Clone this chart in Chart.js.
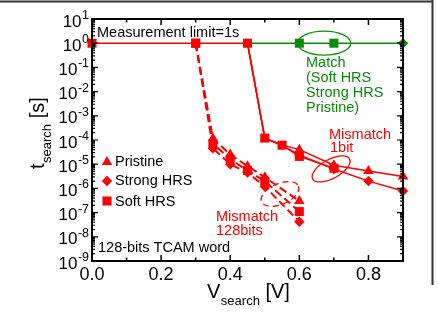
<!DOCTYPE html>
<html>
<head>
<meta charset="utf-8">
<script src="https://cdn.jsdelivr.net/npm/chart.js@4/dist/chart.umd.min.js"></script>
<style>
html,body{margin:0;padding:0;background:#fff;}
#c{display:block;}
</style>
</head>
<body>
<canvas id="c" width="438" height="318"></canvas>
<script>
// ---- data ----
const xLabelValues = [0, 0.2, 0.4, 0.6, 0.8];
const yDecadeExponents = [1, 0, -1, -2, -3, -4, -5, -6, -7, -8, -9];

// Mismatch 128 bits (dashed)
const v128 = [0.3, 0.35, 0.4, 0.45, 0.5, 0.6];
const t128Pristine = [1, 1.15e-4, 2.5e-5, 8.3e-6, 2.9e-6, 3.0e-7];
const t128Soft     = [1, 7.2e-5, 1.6e-5, 5.5e-6, 2.0e-6, 1.1e-7];
const t128Strong   = [1, 4.5e-5, 1.0e-5, 4.5e-6, 1.2e-6, 4.2e-8];

// Mismatch 1 bit (solid)
const v1Soft = [0, 0.3, 0.45, 0.5, 0.55, 0.6, 0.7];
const t1Soft = [1, 1, 1, 1.2e-4, 6.1e-5, 2.1e-5, 6.8e-6];
const v1 = [0.45, 0.5, 0.55, 0.6, 0.7, 0.8, 0.9];
const t1Pristine = [1, 1.2e-4, 6.3e-5, 4.0e-5, 9.0e-6, 5.2e-6, 3.1e-6];
const t1Strong   = [1, 1.15e-4, 6.0e-5, 2.4e-5, 6.3e-6, 2.0e-6, 7.8e-7];

// Match (green)
const vMatch = [0.45, 0.6, 0.7, 0.9];
const tMatch = [1, 1, 1, 1];

// ---- styling ----
const RED = '#ff0000';
const GREEN = '#0a8c0a';
const FONT = '"Liberation Sans", Arial, Helvetica, sans-serif';

function pts(xs, ys) { return xs.map((x, i) => ({x: x, y: ys[i]})); }

const R_SQ = 6.4, R_TRI = 6, R_DIA = 5.2;

const datasets = [
  {data: pts(v1Soft, t1Soft), borderColor: RED, backgroundColor: RED, borderWidth: 1.5,
   pointStyle: 'rect', pointRadius: R_SQ},
  {data: pts(v1, t1Pristine), borderColor: RED, backgroundColor: RED, borderWidth: 1.5,
   pointStyle: 'triangle', pointRadius: [0, 0, 0, R_TRI, R_TRI, R_TRI, R_TRI]},
  {data: pts(v1, t1Strong), borderColor: RED, backgroundColor: RED, borderWidth: 1.5,
   pointStyle: 'rectRot', pointRadius: [0, 0, 0, R_DIA, R_DIA, R_DIA, R_DIA]},
  {data: pts(v128, t128Pristine), borderColor: RED, backgroundColor: RED, borderWidth: 2, borderDash: [8, 4],
   pointStyle: 'triangle', pointRadius: [0, R_TRI, R_TRI, R_TRI, R_TRI, R_TRI]},
  {data: pts(v128, t128Soft), borderColor: RED, backgroundColor: RED, borderWidth: 2, borderDash: [8, 4],
   pointStyle: 'rect', pointRadius: R_SQ},
  {data: pts(v128, t128Strong), borderColor: RED, backgroundColor: RED, borderWidth: 2, borderDash: [8, 4],
   pointStyle: 'rectRot', pointRadius: [0, R_DIA, R_DIA, R_DIA, R_DIA, R_DIA]},
  {data: pts(vMatch, tMatch), borderColor: GREEN, backgroundColor: GREEN, borderWidth: 1.5,
   pointStyle: ['rect', 'rect', 'rect', 'rectRot'], pointRadius: [0, R_SQ, R_SQ, R_DIA]}
];
datasets.forEach(d => { d.clip = false; d.tension = 0; d.fill = false; d.pointBorderWidth = 0; d.pointHoverRadius = d.pointRadius; });

const decoPlugin = {
  id: 'deco',
  afterDraw(chart) {
    const ctx = chart.ctx;
    const a = chart.chartArea;
    const xs = chart.scales.x, ys = chart.scales.y;
    ctx.save();
    // outer picture frame (top and right)
    ctx.strokeStyle = '#333';
    ctx.lineWidth = 2;
    ctx.beginPath();
    ctx.moveTo(0, 1.5); ctx.lineTo(433, 1.5);
    ctx.moveTo(432.5, 0); ctx.lineTo(432.5, 285);
    ctx.stroke();

    // plot frame
    ctx.strokeStyle = '#000';
    ctx.lineWidth = 2;
    ctx.strokeRect(a.left, a.top, a.right - a.left, a.bottom - a.top);

    // x ticks (inward, top & bottom)
    ctx.lineWidth = 1.5;
    ctx.beginPath();
    for (let i = 0; i <= 9; i++) {
      const v = i / 10;
      const px = xs.getPixelForValue(v);
      const len = (i % 2 === 0) ? 6 : 3.5;
      ctx.moveTo(px, a.bottom); ctx.lineTo(px, a.bottom - len);
      ctx.moveTo(px, a.top); ctx.lineTo(px, a.top + len);
    }
    ctx.stroke();

    // y ticks (inward, left & right)
    ctx.lineWidth = 1.2;
    ctx.beginPath();
    for (let e = -9; e <= 0; e++) {
      for (let m = 1; m <= 9; m++) {
        const v = m * Math.pow(10, e);
        const py = ys.getPixelForValue(v);
        const len = (m === 1) ? 6 : 3;
        ctx.moveTo(a.left, py); ctx.lineTo(a.left + len, py);
        ctx.moveTo(a.right, py); ctx.lineTo(a.right - len, py);
      }
    }
    const pTop = ys.getPixelForValue(10);
    ctx.moveTo(a.left, pTop); ctx.lineTo(a.left + 6, pTop);
    ctx.moveTo(a.right, pTop); ctx.lineTo(a.right - 6, pTop);
    ctx.stroke();

    // y tick labels: 10^n
    ctx.fillStyle = '#000';
    ctx.textBaseline = 'middle';
    yDecadeExponents.forEach(n => {
      const py = ys.getPixelForValue(Math.pow(10, n)) + 3;
      const expStr = n < 0 ? '-' + (-n) : String(n);
      ctx.font = '12.5px ' + FONT;
      const ew = ctx.measureText(expStr).width;
      ctx.font = '17px ' + FONT;
      const bw = ctx.measureText('10').width;
      const right = a.left - 3;
      ctx.textAlign = 'left';
      ctx.fillText('10', right - ew - bw - 0.5, py);
      ctx.font = '12.5px ' + FONT;
      ctx.textBaseline = 'alphabetic';
      ctx.fillText(expStr, right - ew, py - 3);
      ctx.textBaseline = 'middle';
    });

    // axis titles
    ctx.textBaseline = 'alphabetic';
    ctx.textAlign = 'left';
    // x title
    ctx.font = '20px ' + FONT;
    ctx.fillText('V', 207, 298);
    let w = ctx.measureText('V').width;
    ctx.font = '13px ' + FONT;
    ctx.fillText('search', 207 + w + 0.5, 305);
    let sw = ctx.measureText('search').width;
    ctx.font = '20px ' + FONT;
    ctx.fillText(' [V]', 207 + w + 0.5 + sw, 298);

    // y title (rotated)
    ctx.save();
    ctx.translate(44, 169);
    ctx.rotate(-Math.PI / 2);
    ctx.font = '20px ' + FONT;
    ctx.fillText('t', 0, 0);
    w = ctx.measureText('t').width;
    ctx.font = '13px ' + FONT;
    ctx.fillText('search', w + 0.5, 6.5);
    sw = ctx.measureText('search').width;
    ctx.font = '20px ' + FONT;
    ctx.fillText(' [s]', w + 0.5 + sw, 0);
    ctx.restore();

    // text annotations
    ctx.font = '14.5px ' + FONT;
    ctx.textBaseline = 'middle';
    ctx.fillStyle = '#000';
    ctx.fillText('Measurement limit=1s', 97, 33);
    ctx.fillText('128-bits TCAM word', 98, 248);
    // legend
    const H = Chart.helpers;
    ctx.fillStyle = RED;
    H.drawPoint(ctx, {pointStyle: 'triangle', radius: R_TRI, rotation: 0, borderWidth: 0}, 107, 162);
    H.drawPoint(ctx, {pointStyle: 'rectRot', radius: R_DIA, rotation: 0, borderWidth: 0}, 107, 181);
    H.drawPoint(ctx, {pointStyle: 'rect', radius: R_SQ, rotation: 0, borderWidth: 0}, 107, 201);
    ctx.fillStyle = '#000';
    ctx.fillText('Pristine', 115, 162);
    ctx.fillText('Strong HRS', 115, 181);
    ctx.fillText('Soft HRS', 115, 202);

    ctx.fillStyle = GREEN;
    ctx.fillText('Match', 306, 63);
    ctx.fillText('(Soft HRS', 306, 78);
    ctx.fillText('Strong HRS', 306, 93);
    ctx.fillText('Pristine)', 306, 108);

    ctx.fillStyle = RED;
    ctx.fillText('Mismatch', 329, 135);
    ctx.fillText('1bit', 330, 148);
    ctx.fillText('Mismatch', 216, 217);
    ctx.fillText('128bits', 216, 231);

    // ellipses around groups (centres taken through the scales)
    ctx.lineWidth = 1.3;
    ctx.strokeStyle = GREEN;
    ctx.beginPath();
    ctx.ellipse(xs.getPixelForValue(0.672), ys.getPixelForValue(1), 26.5, 12, 0, 0, Math.PI * 2);
    ctx.stroke();
    ctx.strokeStyle = RED;
    ctx.beginPath();
    ctx.ellipse(xs.getPixelForValue(0.692), ys.getPixelForValue(6.4e-6), 21, 9.5, -0.5, 0, Math.PI * 2);
    ctx.stroke();
    ctx.setLineDash([6, 4]);
    ctx.beginPath();
    ctx.ellipse(xs.getPixelForValue(0.544), ys.getPixelForValue(5.9e-7), 20, 10.5, -0.4, 0, Math.PI * 2);
    ctx.stroke();
    ctx.restore();
  }
};

new Chart(document.getElementById('c'), {
  type: 'line',
  data: {datasets: datasets},
  options: {
    responsive: false,
    animation: false,
    devicePixelRatio: 1,
    layout: {padding: {top: 19, right: 35, left: 0, bottom: 0}},
    plugins: {legend: {display: false}, tooltip: {enabled: false}},
    scales: {
      x: {
        type: 'linear', min: 0, max: 0.9,
        grid: {display: false, drawTicks: false, tickLength: 0},
        border: {display: false},
        afterFit(s) { s.height = 57; },
        afterBuildTicks(s) { s.ticks = xLabelValues.map(v => ({value: v})); },
        ticks: {
          autoSkip: false, maxRotation: 0, padding: 3, color: '#000',
          font: {family: FONT, size: 18},
          callback: v => Number(v).toFixed(1)
        }
      },
      y: {
        type: 'logarithmic', min: 1e-9, max: 10,
        grid: {display: false, drawTicks: false},
        border: {display: false},
        ticks: {display: false},
        afterFit(s) { s.width = 92; }
      }
    }
  },
  plugins: [decoPlugin]
});
</script>
</body>
</html>
